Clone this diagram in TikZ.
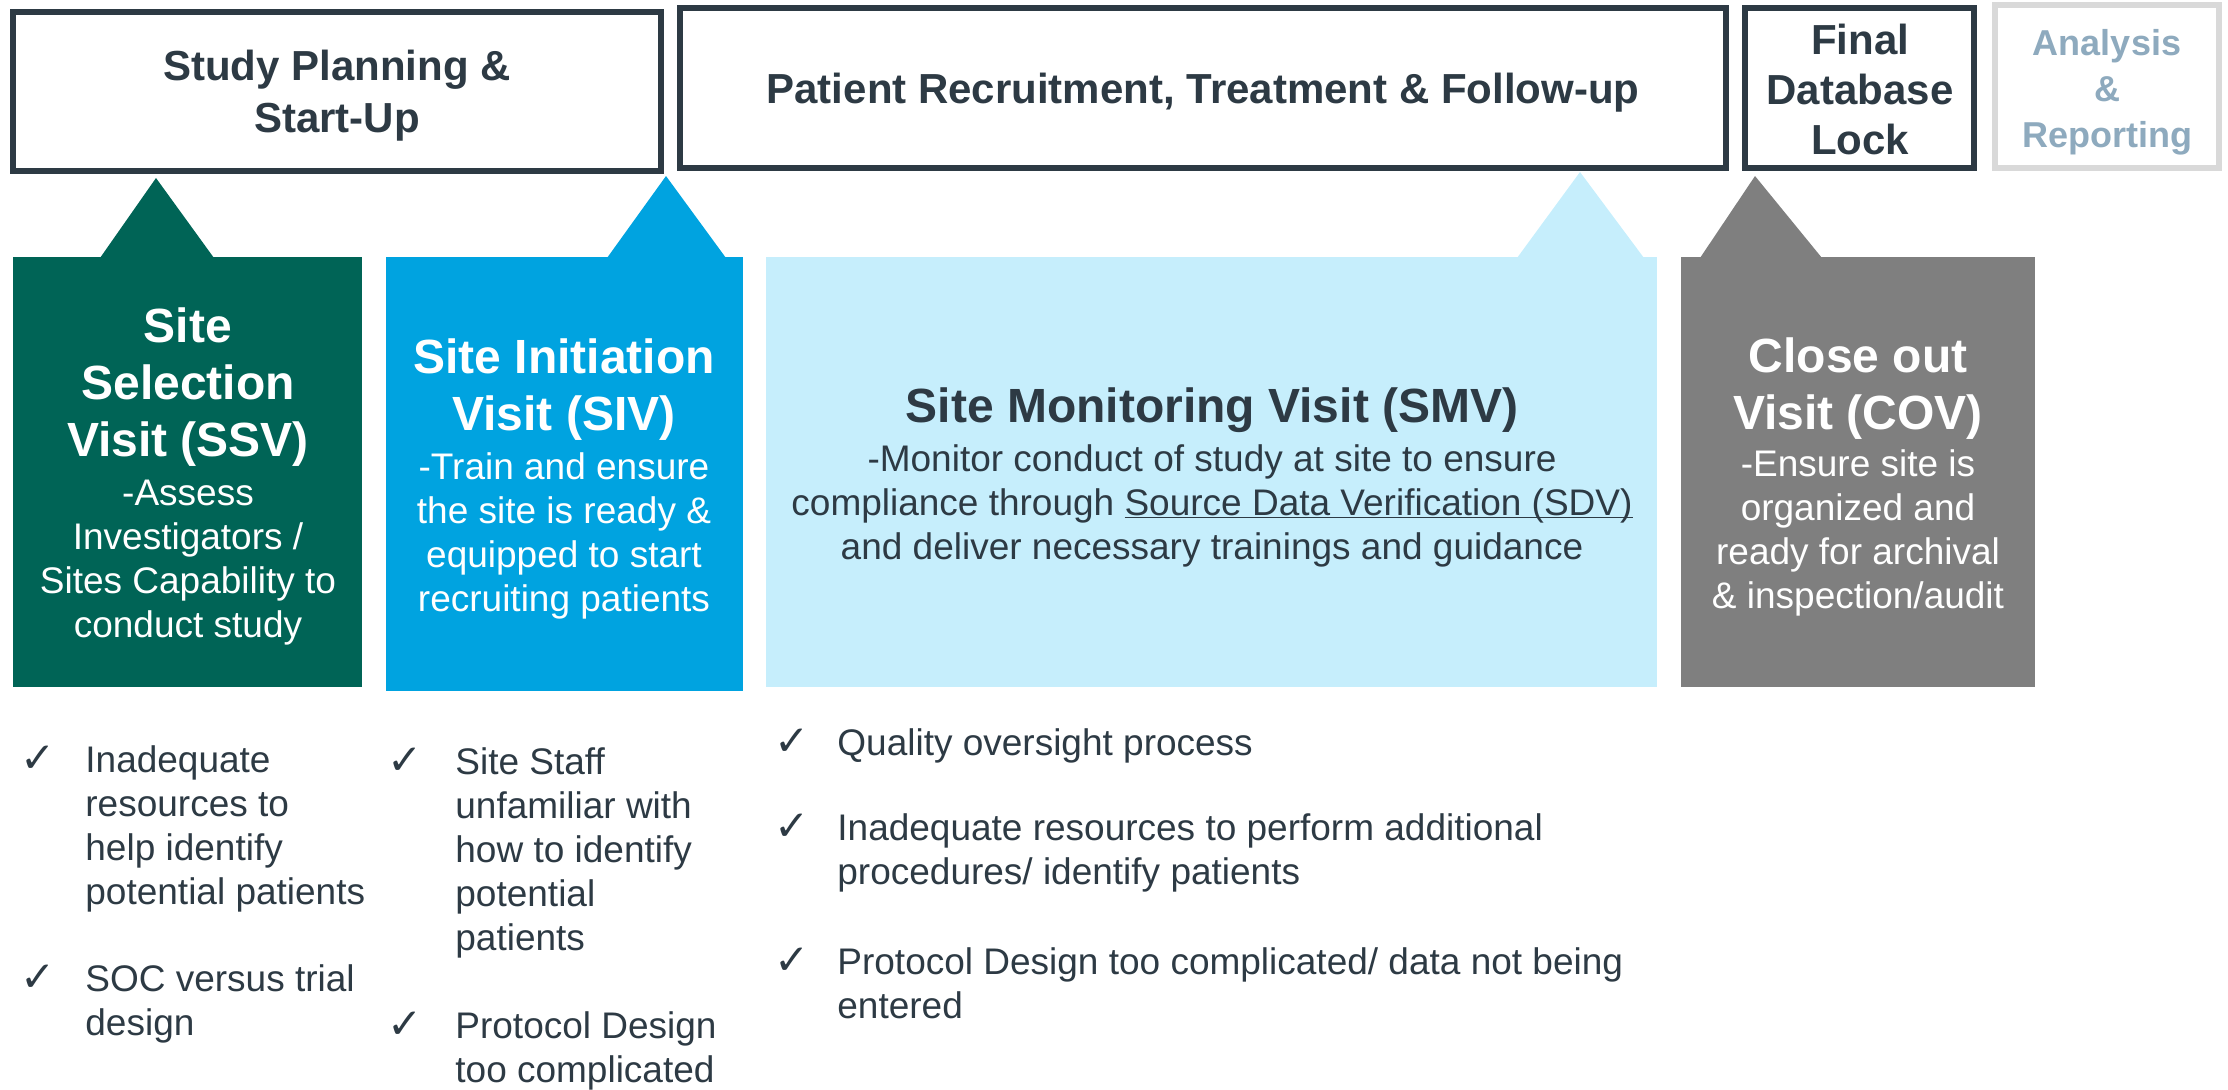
\documentclass[tikz,border=0pt]{standalone}
\usepackage{fontspec}
\setmainfont{Liberation Sans}
\newfontfamily\symfont{DejaVu Sans}
\usetikzlibrary{fit}
\definecolor{ink}{RGB}{45,58,68}
\definecolor{ssvgreen}{RGB}{0,100,86}
\definecolor{sivblue}{RGB}{0,163,224}
\definecolor{smvblue}{RGB}{198,238,252}
\definecolor{covgray}{RGB}{127,127,127}
\definecolor{paleframe}{RGB}{217,217,217}
\definecolor{paletext}{RGB}{142,170,190}
% underline that sits close to the baseline
\newcommand\tightul[1]{\underline{\smash{#1}}}

\begin{document}
% multi-line nodes are placed by the baseline of their last line
\begin{tikzpicture}[x=0.5pt,y=-0.5pt,
  phasebox/.style={draw=ink, line width=3pt, inner sep=0pt, fill=white},
  phasetext/.style={font=\bfseries\fontsize{21}{26}\selectfont, text=ink, align=center, anchor=base, inner sep=0pt},
  visitbox/.style={inner sep=0pt, draw=none},
  vtitle/.style={font=\bfseries\fontsize{24}{28.5}\selectfont, align=center, anchor=base, inner sep=0pt},
  vbody/.style={font=\fontsize{18.5}{22}\selectfont, align=center, anchor=base, inner sep=0pt},
  tick/.style={font=\symfont\fontsize{21}{21}\selectfont, text=ink, anchor=base, inner sep=0pt},
  item/.style={font=\fontsize{18.5}{22}\selectfont, text=ink, align=left, anchor=base west, inner sep=0pt},
]
\path[use as bounding box] (0,0) rectangle (2228,1089);

% ---- phase header boxes ----
\node[phasebox, fit={(13,12) (661,171)}] (plan) {};
\node[phasebox, fit={(680,8) (1726,168)}] (recruit) {};
\node[phasebox, fit={(1745,8) (1974,168)}] (lock) {};
\node[phasebox, draw=paleframe, fit={(1995,5) (2219,168)}] (report) {};

\node[phasetext] (plantext) at (337,132) {Study Planning \&\\Start-Up};
\node[phasetext] (recruittext) at (1203,103) {Patient Recruitment, Treatment \& Follow-up};
\node[phasetext, font=\bfseries\fontsize{21}{25}\selectfont] (locktext) at (1860,154) {Final\\Database\\Lock};
\node[phasetext, font=\bfseries\fontsize{18}{23}\selectfont, text=paletext] (reporttext) at (2107,147) {Analysis\\\&\\Reporting};

% ---- visit boxes with pointer tabs ----
\node[visitbox, fill=ssvgreen, fit={(13,257) (362,687)}] (ssv) {};
\fill[ssvgreen] (100,258) -- (156,178) -- (214,258) -- cycle;
\node[visitbox, fill=sivblue, fit={(386,257) (743,691)}] (siv) {};
\fill[sivblue] (607,258) -- (666,176) -- (726,258) -- cycle;
\node[visitbox, fill=smvblue, fit={(766,257) (1657,687)}] (smv) {};
\fill[smvblue] (1517,258) -- (1580,172) -- (1644,258) -- cycle;
\node[visitbox, fill=covgray, fit={(1681,257) (2035,687)}] (cov) {};
\fill[covgray] (1700,258) -- (1755,176) -- (1822,258) -- cycle;

\node[vtitle, text=white] (ssvtitle) at (188,456) {Site\\Selection\\Visit (SSV)};
\node[vbody, text=white] (ssvbody) at (188,637) {-Assess\\Investigators /\\Sites Capability to\\conduct study};

\node[vtitle, text=white] (sivtitle) at (564,430) {Site Initiation\\Visit (SIV)};
\node[vbody, text=white] (sivbody) at (564,611) {-Train and ensure\\the site is ready \&\\equipped to start\\recruiting patients};

\node[vtitle, text=ink] (smvtitle) at (1212,422) {Site Monitoring Visit (SMV)};
\node[vbody, text=ink] (smvbody) at (1212,559) {-Monitor conduct of study at site to ensure\\compliance through \tightul{Source Data Verification (SDV)}\\and deliver necessary trainings and guidance};

\node[vtitle, text=white] (covtitle) at (1858,429) {Close out\\Visit (COV)};
\node[vbody, text=white] (covbody) at (1858,608) {-Ensure site is\\organized and\\ready for archival\\\& inspection/audit};

% ---- issue lists ----
\node[tick] (t1a) at (38,772) {✓};
\node[item] (i1a) at (85,904) {Inadequate\\resources to\\help identify\\potential patients};
\node[tick] (t1b) at (38,991) {✓};
\node[item] (i1b) at (85,1035) {SOC versus trial\\design};

\node[tick] (t2a) at (405,774) {✓};
\node[item] (i2a) at (455,950) {Site Staff\\unfamiliar with\\how to identify\\potential\\patients};
\node[tick] (t2b) at (405,1038) {✓};
\node[item] (i2b) at (455,1082) {Protocol Design\\too complicated};

\node[tick] (t3a) at (792,755) {✓};
\node[item] (i3a) at (837,755) {Quality oversight process};
\node[tick] (t3b) at (792,840) {✓};
\node[item] (i3b) at (837,884) {Inadequate resources to perform additional\\procedures/ identify patients};
\node[tick] (t3c) at (792,974) {✓};
\node[item] (i3c) at (837,1018) {Protocol Design too complicated/ data not being\\entered};
\end{tikzpicture}
\end{document}
